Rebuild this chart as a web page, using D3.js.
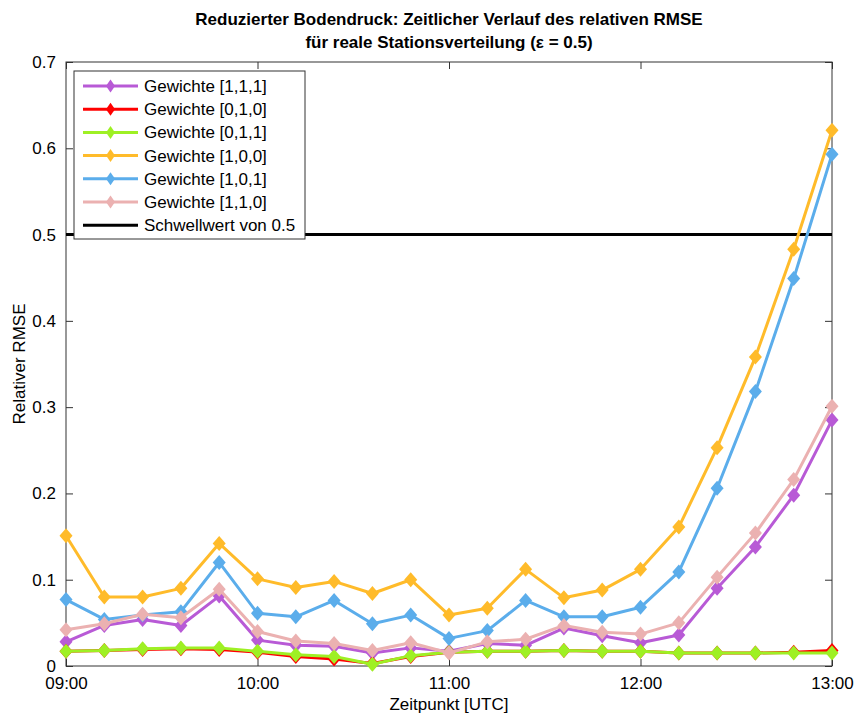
<!DOCTYPE html>
<html>
<head>
<meta charset="utf-8">
<script src="https://cdn.jsdelivr.net/npm/d3@7"></script>
<style>
  body { margin: 0; background: #fff; }
  text { font-family: "Liberation Sans", Arial, sans-serif; fill: #000; }
</style>
</head>
<body>
<svg id="chart" width="856" height="714"></svg>
<script>
const times = ["09:00", "09:12", "09:24", "09:36", "09:48", "10:00", "10:12", "10:24", "10:36", "10:48",
  "11:00", "11:12", "11:24", "11:36", "11:48", "12:00", "12:12", "12:24", "12:36", "12:48", "13:00"]

const w111 = [0.028, 0.047, 0.054, 0.047, 0.081, 0.030, 0.024, 0.023, 0.015, 0.021, 0.017,
  0.026, 0.024, 0.044, 0.035, 0.027, 0.036, 0.090, 0.138, 0.198, 0.285]
const w010 = [0.017, 0.018, 0.019, 0.020, 0.019, 0.016, 0.011, 0.008, 0.003, 0.011, 0.016,
  0.017, 0.017, 0.018, 0.017, 0.017, 0.015, 0.015, 0.015, 0.016, 0.018]
const w011 = [0.017, 0.018, 0.020, 0.021, 0.021, 0.017, 0.013, 0.011, 0.002, 0.012, 0.016,
  0.017, 0.017, 0.018, 0.017, 0.017, 0.015, 0.015, 0.015, 0.015, 0.015]
const w100 = [0.151, 0.080, 0.080, 0.090, 0.142, 0.101, 0.091, 0.098, 0.084, 0.100, 0.059,
  0.067, 0.112, 0.079, 0.088, 0.112, 0.161, 0.253, 0.358, 0.483, 0.621]
const w101 = [0.077, 0.054, 0.059, 0.063, 0.120, 0.061, 0.057, 0.076, 0.049, 0.059, 0.032,
  0.041, 0.076, 0.057, 0.057, 0.068, 0.109, 0.206, 0.318, 0.449, 0.593]
const w110 = [0.042, 0.049, 0.060, 0.056, 0.089, 0.040, 0.029, 0.026, 0.018, 0.027, 0.015,
  0.028, 0.031, 0.047, 0.039, 0.037, 0.050, 0.103, 0.154, 0.216, 0.301]

const threshold = 0.5
const seriesNames = ["Gewichte [1,1,1]", "Gewichte [0,1,0]", "Gewichte [0,1,1]",
  "Gewichte [1,0,0]", "Gewichte [1,0,1]", "Gewichte [1,1,0]"]
const seriesColors = ["#b85ad6", "#ff0000", "#9ef024", "#ffbb2a", "#5badeb", "#ebb1b1"]
const seriesValues = [w111, w010, w011, w100, w101, w110]

const xTicks = ["09:00", "10:00", "11:00", "12:00", "13:00"]
const yTicks = [0, 0.1, 0.2, 0.3, 0.4, 0.5, 0.6, 0.7]

function toMinutes(t) {
    const [h, m] = t.split(":").map(Number)
    return h * 60 + m
}

const svg = d3.select("#chart")
const plotLeft = 66, plotRight = 832, plotTop = 62, plotBottom = 666

const xScale = d3.scaleLinear()
    .domain([toMinutes("09:00"), toMinutes("13:00")])
    .range([plotLeft, plotRight])

const yScale = d3.scaleLinear()
    .domain([0, 0.7])
    .range([plotBottom, plotTop])

// axes, ticks inside on all four sides (box on)
const axisColor = "#333"
const tickLen = 7
const xTickVals = xTicks.map(toMinutes)

function styleAxis(g) {
    g.select(".domain").remove()
    g.selectAll(".tick line").attr("stroke", axisColor)
    g.selectAll(".tick text").attr("font-size", "17px").attr("fill", "#000")
        .attr("font-family", "Liberation Sans, Arial, sans-serif")
}

svg.append("g")
  .attr("transform", `translate(0,${plotBottom})`)
  .call(d3.axisBottom(xScale).tickValues(xTickVals)
    .tickFormat((d, i) => xTicks[i]).tickSizeInner(-tickLen).tickSizeOuter(0).tickPadding(11))
  .call(styleAxis)

svg.append("g")
  .attr("transform", `translate(0,${plotTop})`)
  .call(d3.axisTop(xScale).tickValues(xTickVals).tickFormat("").tickSizeInner(-tickLen).tickSizeOuter(0))
  .call(styleAxis)

svg.append("g")
  .attr("transform", `translate(${plotLeft},0)`)
  .call(d3.axisLeft(yScale).tickValues(yTicks)
    .tickFormat(d => d === 0 ? "0" : d3.format(".1f")(d)).tickSizeInner(-tickLen).tickSizeOuter(0).tickPadding(10))
  .call(styleAxis)

svg.append("g")
  .attr("transform", `translate(${plotRight},0)`)
  .call(d3.axisRight(yScale).tickValues(yTicks).tickFormat("").tickSizeInner(-tickLen).tickSizeOuter(0))
  .call(styleAxis)

svg.append("rect")
  .attr("x", plotLeft).attr("y", plotTop)
  .attr("width", plotRight - plotLeft).attr("height", plotBottom - plotTop)
  .attr("fill", "none")
  .attr("stroke", axisColor)
  .attr("stroke-width", 1)

// threshold line
svg.append("line")
  .attr("x1", xScale(toMinutes("09:00"))).attr("x2", xScale(toMinutes("13:00")))
  .attr("y1", yScale(threshold)).attr("y2", yScale(threshold))
  .attr("stroke", "#000")
  .attr("stroke-width", 3)

// series
const line = d3.line()
    .x((d, i) => xScale(toMinutes(times[i])))
    .y(d => yScale(d))

function diamond(cx, cy, hw, hh) {
    return `M${cx},${cy - hh}L${cx + hw},${cy}L${cx},${cy + hh}L${cx - hw},${cy}Z`
}

seriesValues.forEach((values, s) => {
    const g = svg.append("g")
    g.append("path")
      .datum(values)
      .attr("d", line)
      .attr("fill", "none")
      .attr("stroke", seriesColors[s])
      .attr("stroke-width", 3)
      .attr("stroke-linejoin", "round")

    g.selectAll("path.marker")
      .data(values)
      .enter().append("path")
      .attr("class", "marker")
      .attr("d", (d, i) => diamond(xScale(toMinutes(times[i])), yScale(d), 6.5, 7.5))
      .attr("fill", seriesColors[s])
})

// legend
const legend = svg.append("g").attr("transform", "translate(74,71)")
legend.append("rect")
  .attr("x", 0).attr("y", 0)
  .attr("width", 231).attr("height", 168)
  .attr("fill", "#fff")
  .attr("stroke", axisColor)

const rowH = 23.2
const legendItems = seriesNames.concat(["Schwellwert von 0.5"])
legendItems.forEach((name, i) => {
    const cy = 15 + i * rowH
    const color = i < seriesNames.length ? seriesColors[i] : "#000"
    legend.append("line")
      .attr("x1", 9).attr("x2", 64)
      .attr("y1", cy).attr("y2", cy)
      .attr("stroke", color)
      .attr("stroke-width", 3)
    if (i < seriesNames.length) {
        legend.append("path")
          .attr("d", diamond(36.5, cy, 4.5, 6.5))
          .attr("fill", color)
    }
    legend.append("text")
      .attr("x", 70)
      .attr("y", cy + 6)
      .attr("font-size", "17px")
      .text(name)
})

// title and axis labels
const midX = (plotLeft + plotRight) / 2
svg.append("text")
  .attr("x", midX).attr("y", 25)
  .attr("text-anchor", "middle")
  .attr("font-size", "17px")
  .attr("font-weight", "bold")
  .text("Reduzierter Bodendruck: Zeitlicher Verlauf des relativen RMSE")

svg.append("text")
  .attr("x", midX).attr("y", 48)
  .attr("text-anchor", "middle")
  .attr("font-size", "17px")
  .attr("font-weight", "bold")
  .text("für reale Stationsverteilung (ε = 0.5)")

svg.append("text")
  .attr("x", midX).attr("y", 710)
  .attr("text-anchor", "middle")
  .attr("font-size", "17px")
  .text("Zeitpunkt [UTC]")

svg.append("text")
  .attr("transform", `translate(25,${(plotTop + plotBottom) / 2}) rotate(-90)`)
  .attr("text-anchor", "middle")
  .attr("font-size", "17px")
  .text("Relativer RMSE")
</script>
</body>
</html>
